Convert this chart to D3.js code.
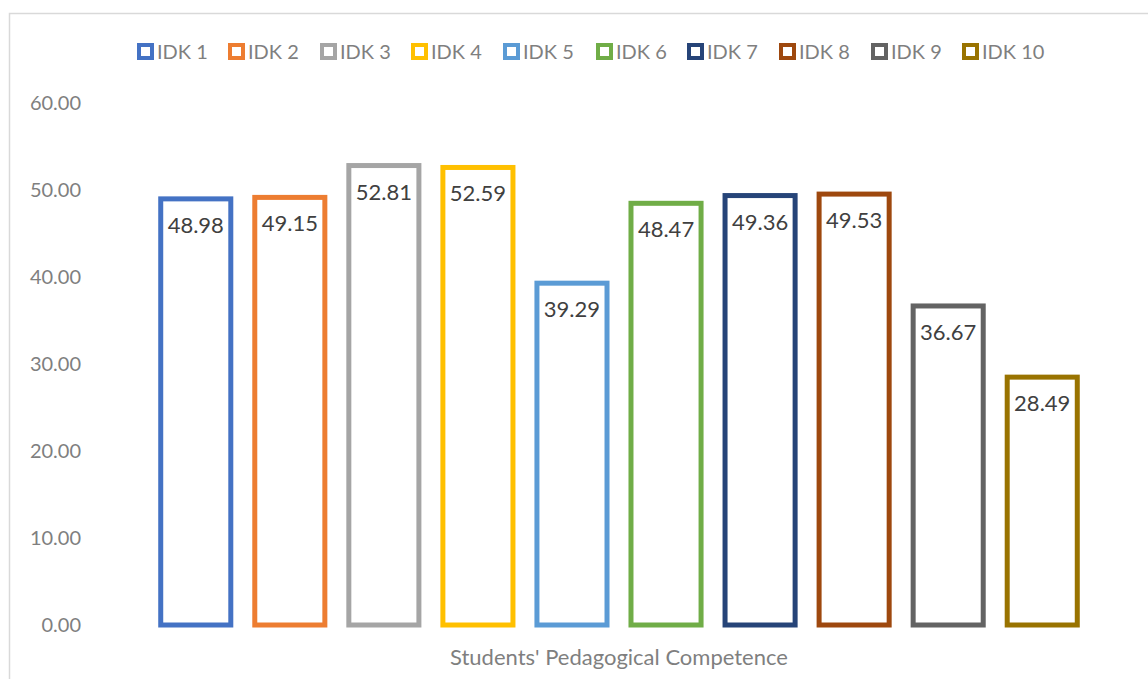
<!DOCTYPE html>
<html lang="en">
<head>
    <meta charset="UTF-8">
    <script src="https://d3js.org/d3.v7.min.js"></script>
    <title>Students' Pedagogical Competence</title>
    <style>
        body { margin: 0; background: #fff; }
        text { font-family: Lato, "Open Sans", sans-serif; }
    </style>
</head>
<body>
    <svg width="1148" height="679" id="chart" xmlns="http://www.w3.org/2000/svg"></svg>
    <script type="text/javascript">
      var categories = ["IDK 1", "IDK 2", "IDK 3", "IDK 4", "IDK 5", "IDK 6", "IDK 7", "IDK 8", "IDK 9", "IDK 10"];
      var values = [48.98, 49.15, 52.81, 52.59, 39.29, 48.47, 49.36, 49.53, 36.67, 28.49];
      var colors = ["#4472C4", "#ED7D31", "#A5A5A5", "#FFC000", "#5B9BD5", "#70AD47", "#264478", "#9E480E", "#636363", "#997300"];
      var yTicks = [0, 10, 20, 30, 40, 50, 60];
      var xTitle = "Students' Pedagogical Competence";

      var svg = d3.select("#chart");

      // chart area border (cut off at right and bottom)
      svg.append("rect")
        .attr("x", 9.5).attr("y", 13.5)
        .attr("width", 1200).attr("height", 700)
        .attr("fill", "none").attr("stroke", "#d9d9d9").attr("stroke-width", 1.5);

      var x = d3.scaleBand().domain(categories).range([148.5, 1089.5]).paddingInner(0.255).paddingOuter(0.13);
      var y = d3.scaleLinear().domain([0, 60]).range([625, 103]);

      // y axis labels, no line, no gridlines
      var yAxis = d3.axisLeft(y).tickValues(yTicks).tickFormat(d3.format(".2f")).tickSize(0).tickPadding(0);
      var gy = svg.append("g").attr("transform", "translate(81,0)").call(yAxis);
      gy.select(".domain").remove();
      gy.selectAll("text").attr("fill", "#7f7f7f").style("font-size", "20px")
        .style("font-family", "Lato, 'Open Sans', sans-serif");

      // bars
      svg.append("g").selectAll("rect").data(values).join("rect")
        .attr("x", function(d, i) { return x(categories[i]); })
        .attr("y", function(d) { return y(d); })
        .attr("width", x.bandwidth())
        .attr("height", function(d) { return y(0) - y(d); })
        .attr("fill", "none")
        .attr("stroke", function(d, i) { return colors[i]; })
        .attr("stroke-width", 5);

      // value labels inside near top
      svg.append("g").selectAll("text").data(values).join("text")
        .attr("x", function(d, i) { return x(categories[i]) + x.bandwidth() / 2; })
        .attr("y", function(d) { return y(d) + 34; })
        .attr("text-anchor", "middle")
        .attr("fill", "#404040")
        .style("font-size", "22px")
        .text(function(d) { return d.toFixed(2); });

      // x axis title
      svg.append("text")
        .attr("x", (x.range()[0] + x.range()[1]) / 2)
        .attr("y", 665)
        .attr("text-anchor", "middle")
        .attr("fill", "#7f7f7f")
        .style("font-size", "22px")
        .text(xTitle);

      // legend
      var legendStarts = [137, 228, 320, 411, 503, 596, 687, 779, 871, 962];
      var leg = svg.append("g").selectAll("g").data(categories).join("g")
        .attr("transform", function(d, i) { return "translate(" + legendStarts[i] + ",43)"; });
      leg.append("rect")
        .attr("x", 2).attr("y", 2).attr("width", 13).attr("height", 13)
        .attr("fill", "#fff")
        .attr("stroke", function(d, i) { return colors[i]; })
        .attr("stroke-width", 4);
      leg.append("text")
        .attr("x", 20).attr("y", 15.5)
        .attr("fill", "#7f7f7f")
        .style("font-size", "20px")
        .text(function(d) { return d; });
    </script>
</body>
</html>
